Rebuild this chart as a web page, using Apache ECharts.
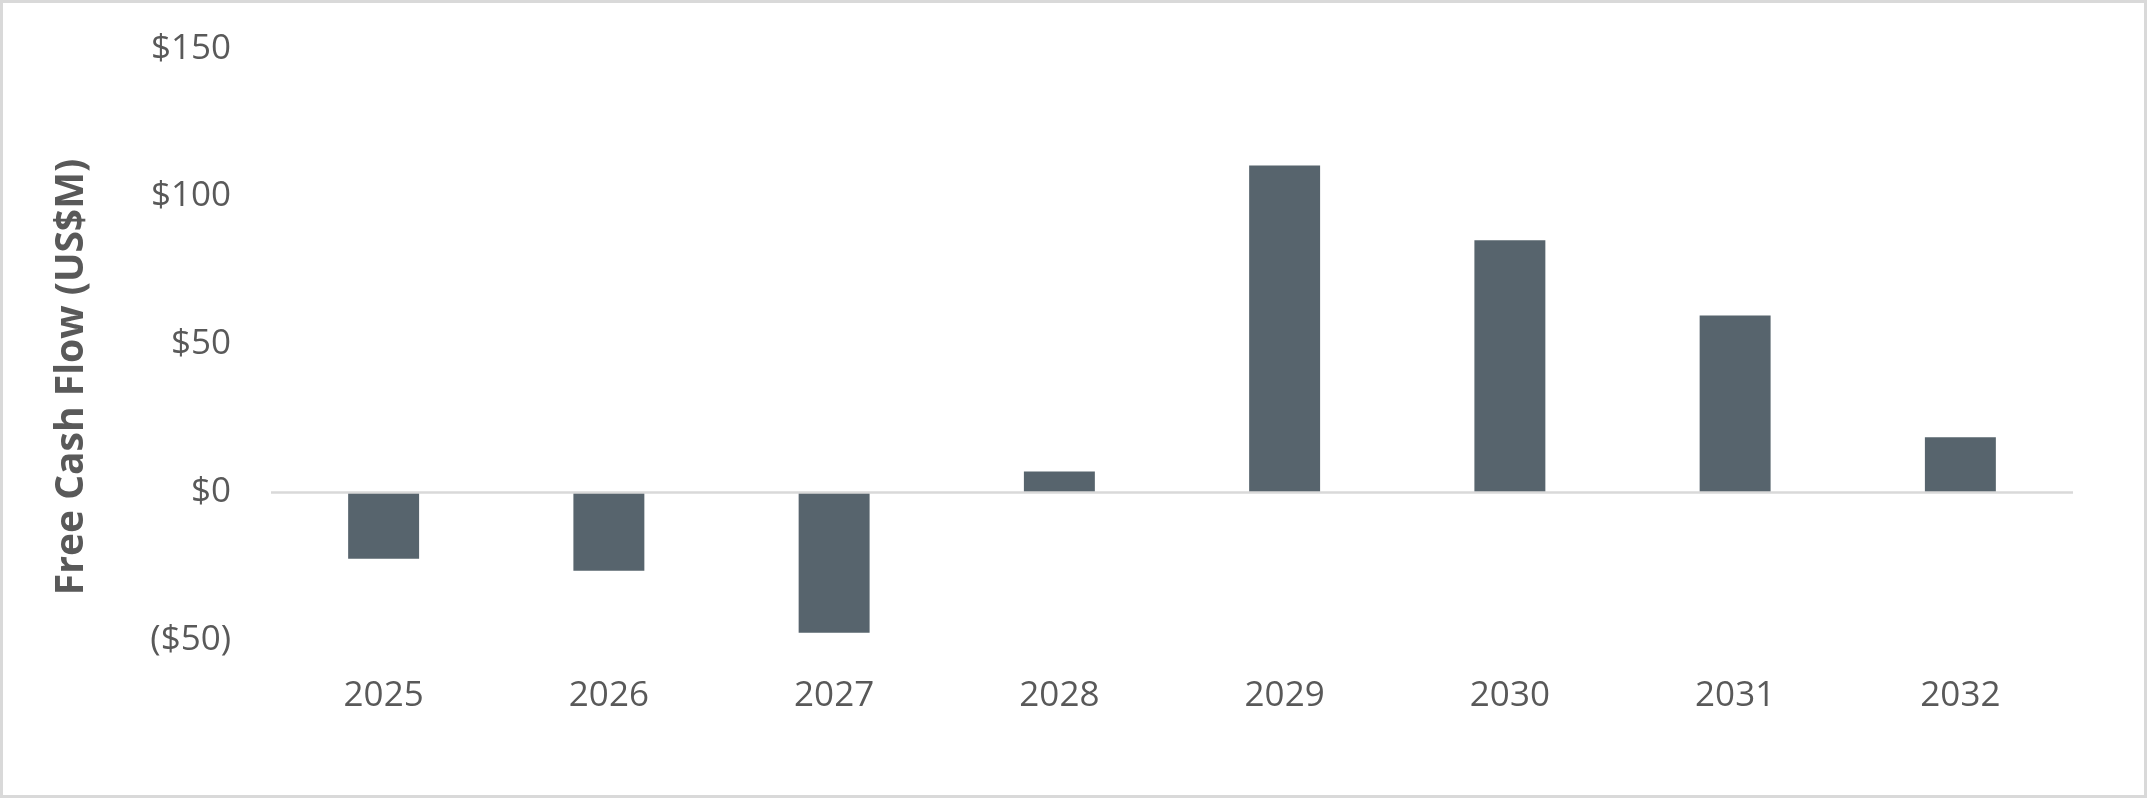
<!DOCTYPE html>
<html>
<head>
<meta charset="utf-8">
<title>Free Cash Flow</title>
<script src="https://cdn.jsdelivr.net/npm/echarts@6/dist/echarts.min.js"></script>
<style>
    html, body { margin: 0; padding: 0; background: #ffffff; }
    #chartFcf { position: absolute; left: 0; top: 0; width: 2147px; height: 798px; }
    #frame { position: absolute; left: 0; top: 0; width: 2147px; height: 798px;
             box-sizing: border-box; border: 3px solid #d9d9d9; pointer-events: none; }
</style>
</head>
<body>
<div id="chartFcf"></div>
<div id="frame"></div>
<script>
    /** 数据 */
    var years = ['2025', '2026', '2027', '2028', '2029', '2030', '2031', '2032']
    var fcfValues = [-22.5, -26.5, -47.5, 7, 110.5, 85.2, 59.8, 18.6]
    var axisTitle = 'Free Cash Flow (US$M)'

    var textColor = '#595959'

    var theChart = echarts.init(document.getElementById('chartFcf'))
    var option = {
        backgroundColor: '#ffffff',
        animation: false,
        grid: {
            left: 271,
            right: 74,
            top: 48.6,
            bottom: 157.8,
            containLabel: false
        },
        graphic: [{
            type: 'text',
            x: 72,
            y: 377,
            rotation: Math.PI / 2,
            style: {
                text: axisTitle,
                font: 'bold 39px "Open Sans"',
                fill: textColor,
                align: 'center',
                verticalAlign: 'middle'
            }
        }],
        xAxis: {
            type: 'category',
            data: years,
            axisLine: { show: false, onZero: false },
            axisTick: { show: false },
            axisLabel: {
                margin: 38,
                color: textColor,
                fontFamily: 'Open Sans',
                fontSize: 35
            }
        },
        yAxis: {
            type: 'value',
            min: -50,
            max: 150,
            interval: 50,
            axisLine: { show: false },
            axisTick: { show: false },
            splitLine: { show: false },
            axisLabel: {
                margin: 40,
                color: textColor,
                fontFamily: 'Open Sans',
                fontSize: 35,
                formatter: function (v) {
                    return v < 0 ? '($' + (-v) + ')' : '$' + v
                }
            }
        },
        series: [{
            name: axisTitle,
            type: 'bar',
            data: fcfValues,
            barWidth: '31.5%',
            itemStyle: { color: '#57646d' },
            markLine: {
                silent: true,
                symbol: ['none', 'none'],
                label: { show: false },
                lineStyle: { color: '#d9d9d9', width: 2.5, type: 'solid' },
                data: [{ yAxis: 0 }]
            }
        }]
    }
    theChart.setOption(option)
</script>
</body>
</html>
